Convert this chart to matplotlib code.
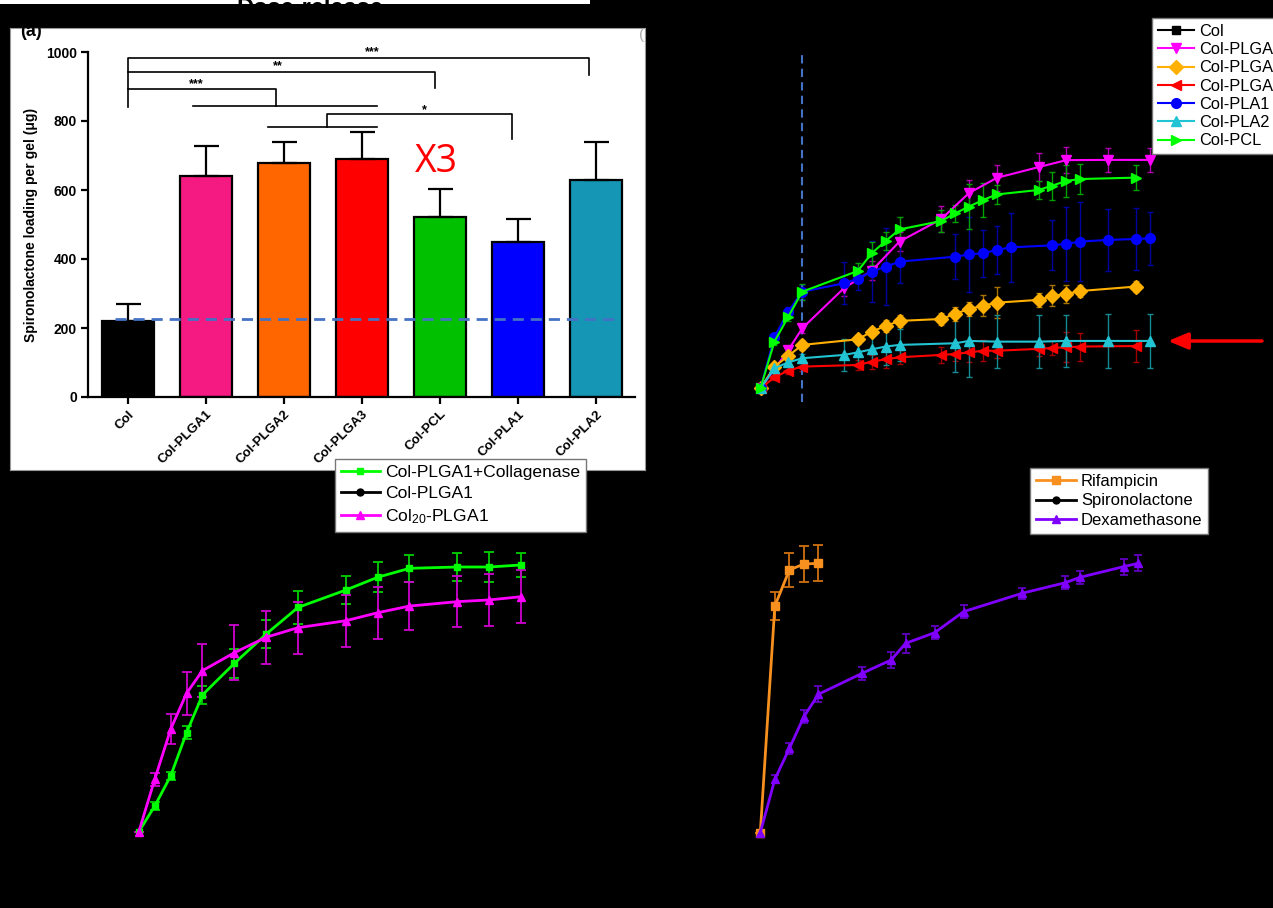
import matplotlib
matplotlib.use("Agg")
import matplotlib.pyplot as plt

plt.rcParams['font.family'] = ['Liberation Sans', 'DejaVu Sans']
plt.rcParams['mathtext.default'] = 'regular'

# ---- (a) loading per gel ----
groups = ['Col', 'Col-PLGA1', 'Col-PLGA2', 'Col-PLGA3', 'Col-PCL', 'Col-PLA1', 'Col-PLA2']
loading = [220, 640, 677, 690, 522, 450, 630]
loading_err = [50, 88, 63, 78, 82, 66, 108]
bar_colors = ['#000000', '#f41a82', '#ff6600', '#ff0000', '#00c000', '#0000ff', '#1496b4']
col_level = 225

# significance brackets: polyline points (group position, value) and star label
brackets = [
    ([(0, 840), (0, 983), (5.91, 983), (5.91, 933)], '***', (3.13, 1000)),
    ([(0, 943), (3.94, 943), (3.94, 895)], '**', (1.92, 958)),
    ([(0, 893), (1.9, 893), (1.9, 843)], '***', (0.88, 908)),
    ([(0.83, 843), (3.19, 843)], '', None),
    ([(1.8, 783), (3.19, 783)], '', None),
    ([(2.55, 783), (2.55, 820), (4.92, 820), (4.92, 747)], '*', (3.8, 832)),
]

# ---- (b) cumulative release, day ----
b_series = {
    'Col-PLGA1': ([0, 2, 3, 6, 8, 10, 13, 15, 17, 20, 22, 25, 28],
                  [0, 16.4, 25.7, 42.9, 50.4, 62.9, 72.5, 83.7, 90.2, 94.8, 97.8, 97.9, 97.9],
                  [0, 1.5, 2, 3.5, 4, 4, 5.5, 5.5, 5.5, 5.9, 5.5, 5.2, 5.2]),
    'Col-PLGA2': ([0, 1, 2, 3, 7, 8, 9, 10, 13, 14, 15, 16, 17, 20, 21, 22, 23, 27],
                  [0, 9.3, 13.9, 18.6, 21.0, 24.3, 26.7, 28.9, 29.7, 31.9, 34.0, 35.4, 36.7, 37.9, 39.6, 40.4, 41.7, 43.6],
                  [0, 1, 1.5, 2, 2, 2, 2.5, 2.5, 2.5, 3, 2.9, 4.6, 6.6, 3, 4.5, 3.8, 2.5, 2.4]),
    'Col-PLGA3': ([0, 1, 2, 3, 7, 8, 9, 10, 13, 14, 15, 16, 17, 20, 21, 22, 23, 27],
                  [0, 4.7, 7.6, 9.3, 10.0, 11.4, 12.4, 13.3, 14.3, 14.7, 15.4, 16.1, 16.1, 16.9, 17.3, 17.6, 17.9, 18.1],
                  [0, 1, 1.5, 2, 2, 3, 3.9, 3, 3.4, 3, 4, 4.6, 3, 3, 3, 6.4, 6, 6.8]),
    'Col-PLA1': ([0, 1, 2, 3, 6, 7, 8, 9, 10, 14, 15, 16, 17, 18, 21, 22, 23, 25, 27, 28],
                 [0, 21.9, 32.9, 41.4, 45.0, 47.0, 50.0, 52.1, 54.3, 56.4, 57.4, 57.9, 59.3, 60.4, 61.3, 61.9, 62.9, 63.6, 64.0, 64.3],
                 [0, 1.5, 2, 3, 9, 5, 13, 16.4, 9.1, 9.6, 16, 10, 10.3, 14.7, 10.7, 15.7, 16.8, 13.4, 13.2, 11.4]),
    'Col-PLA2': ([0, 1, 2, 3, 6, 7, 8, 9, 10, 14, 15, 17, 20, 22, 25, 28],
                 [0, 8.6, 11.1, 12.9, 14.3, 15.4, 16.7, 17.9, 18.6, 19.3, 20.3, 20.0, 20.0, 20.3, 20.3, 20.3],
                 [0, 1, 1.5, 2, 7, 5, 6, 8, 7, 12.5, 15.6, 11.3, 11.3, 11.3, 11.4, 11.5]),
    'Col-PCL': ([0, 1, 2, 3, 7, 8, 9, 10, 13, 14, 15, 16, 17, 20, 21, 22, 23, 27],
                [0, 20.0, 30.7, 41.4, 50.3, 57.9, 63.1, 68.1, 71.7, 75.0, 77.9, 80.7, 83.1, 85.0, 86.9, 88.9, 89.7, 90.3],
                [0, 1.5, 2, 3.5, 3.5, 5, 4, 5.3, 4.6, 3.6, 9.6, 7.1, 4, 3.9, 6, 6.9, 6.6, 5.5]),
}
b_style = {
    'Col-PLGA1': ('#ff00ff', '#b000b0', 'v'),
    'Col-PLGA2': ('#ffb000', '#a87400', 'D'),
    'Col-PLGA3': ('#ff0000', '#a00000', '<'),
    'Col-PLA1': ('#0000ff', '#0000a0', 'o'),
    'Col-PLA2': ('#22c3d3', '#168a94', '^'),
    'Col-PCL': ('#00ff00', '#00a000', '>'),
}
b_order = ['Col', 'Col-PLGA1', 'Col-PLGA2', 'Col-PLGA3', 'Col-PLA1', 'Col-PLA2', 'Col-PCL']
burst_day = 3

# ---- (c) collagenase ----
c_days = [0, 1, 2, 3, 4, 6, 8, 10, 13, 15, 17, 20, 22, 24]
c_collagenase = [0, 9.6, 20.9, 37.1, 51.3, 63.1, 74.1, 84.1, 90.6, 95.4, 98.75, 99.25, 99.25, 100]
c_collagenase_err = [0, 1.5, 1.5, 2.5, 3.3, 5.3, 5.3, 6.2, 5.4, 5.6, 5.1, 5.3, 5.5, 4.5]
c_col20 = [0, 19.6, 38.4, 51.9, 60.4, 67.1, 72.9, 76.5, 79.1, 82.1, 84.6, 86.25, 86.9, 88.1]
c_col20_err = [0, 2.5, 5.6, 8.1, 10, 10.3, 9.9, 9.7, 9.7, 9.7, 9.0, 9.6, 9.6, 9.9]

# ---- (d) drugs ----
rif_days = [0, 1, 2, 3, 4]
rif = [0, 85, 98.5, 100.75, 101]
rif_err = [0, 5.4, 6.5, 6.9, 6.75]
dex_days = [0, 1, 2, 3, 4, 7, 9, 10, 12, 14, 18, 21, 22, 25, 26]
dex = [0, 20, 31.6, 43.5, 51.9, 59.75, 64.75, 71, 75, 82.9, 89.75, 93.75, 95.75, 99.75, 101]
dex_err = [0, 1.5, 2, 2.5, 3, 2.5, 3, 3.5, 2.5, 2.5, 2, 2.5, 2.5, 3, 3]

W, H = 1273, 908
fig = plt.figure(figsize=(W / 100, H / 100), dpi=100, facecolor='black')


def px_rect(x0, y0, x1, y1):
    return [x0 / W, 1 - y1 / H, (x1 - x0) / W, (y1 - y0) / H]


def overlay(box, x0px, px_per_day, y0px, px_per_unit):
    left, top, right, bottom = box
    ax = fig.add_axes(px_rect(left, top, right, bottom))
    ax.set_xlim((left - x0px) / px_per_day, (right - x0px) / px_per_day)
    ax.set_ylim((y0px - bottom) / px_per_unit, (y0px - top) / px_per_unit)
    ax.set_axis_off()
    return ax


def legend_at(handles, labels, x, y, fs, hl, ls):
    leg = fig.legend(handles, labels, loc='upper left', bbox_to_anchor=(x / W, 1 - y / H),
                     bbox_transform=fig.transFigure, borderaxespad=0, fontsize=fs,
                     handlelength=hl, handletextpad=0.3, labelspacing=ls, borderpad=0.35,
                     fancybox=False, framealpha=1, edgecolor='#777777')
    leg.get_frame().set_linewidth(1.0)
    return leg


# top strip with clipped title
ax_top = fig.add_axes(px_rect(0, 0, 590, 4))
ax_top.set_facecolor('white')
ax_top.set_xticks([]); ax_top.set_yticks([])
for s in ax_top.spines.values():
    s.set_visible(False)
ax_top.text(310 / 590, 1.8, 'Dose-release', ha='center', va='top', fontsize=17,
            fontweight='bold', color='black', transform=ax_top.transAxes, clip_on=True)

# white panel (a)
ax_pa = fig.add_axes(px_rect(10, 28, 645, 470))
ax_pa.set_facecolor('white')
ax_pa.set_xticks([]); ax_pa.set_yticks([])
for s in ax_pa.spines.values():
    s.set_color('#999999'); s.set_linewidth(0.8)
ax_pa.text(10 / 635, (470 - 36) / 442, '(a)', fontsize=13, fontweight='bold',
           transform=ax_pa.transAxes, clip_on=True)
fig.text(642 / W, 1 - 35 / H, '(', color='#aaaaaa', fontsize=11, ha='center', va='center')

# bar chart
ax = fig.add_axes(px_rect(88, 52, 635, 397))
ax.set_facecolor('none')
pos = list(range(len(groups)))
ax.bar(pos, loading, width=0.67, color=bar_colors, edgecolor='black', linewidth=1.6,
       yerr=[[0] * len(loading), loading_err], capsize=9,
       error_kw=dict(elinewidth=1.6, capthick=1.6, ecolor='black'), zorder=2)
ax.plot([-0.17, 6.24], [col_level, col_level], linestyle=(0, (4, 2.5)), color='#4472c4', lw=2, zorder=3)
for pts, lab, lpos in brackets:
    ax.plot([p[0] for p in pts], [p[1] for p in pts], color='black', lw=1.2, clip_on=False)
    if lab:
        ax.text(lpos[0], lpos[1], lab, ha='center', va='center', fontsize=9, fontweight='bold')
ax.text(3.95, 681, 'X3', color='#ff0000', fontsize=27, family='Open Sans', ha='center', va='center')
ax.set_xlim(-0.513, 6.5)
ax.set_ylim(0, 1000)
ax.set_yticks([0, 200, 400, 600, 800, 1000])
ax.set_xticks(pos)
ax.set_xticklabels(groups, rotation=45, ha='right', va='top', rotation_mode='anchor',
                   fontsize=9.5, fontweight='bold')
for lab in ax.get_yticklabels():
    lab.set_fontweight('bold')
ax.tick_params(axis='both', direction='out', length=5, width=1.6, pad=3)
ax.tick_params(axis='y', labelsize=10)
ax.spines['top'].set_visible(False)
ax.spines['right'].set_visible(False)
ax.spines['left'].set_linewidth(1.6)
ax.spines['bottom'].set_linewidth(1.6)
ax.set_ylabel('Spironolactone loading per gel (\u03bcg)', fontsize=10, fontweight='bold')
ax.yaxis.set_label_coords(-0.092, 0.5)

# panel (b)
axb = overlay((690, 30, 1273, 420), 760.5, 13.9, 388.3, 2.333)
handles = {}
handles['Col'], = axb.plot([], [], color='black', marker='s', lw=1.5, ms=6)
for name, (t, v, e) in b_series.items():
    c, ec, m = b_style[name]
    cont = axb.errorbar(t, v, yerr=e, color=c, ecolor=ec, marker=m, ms=7, lw=1.5,
                        elinewidth=1, capsize=2.5, capthick=1, clip_on=False)
    handles[name] = cont[0]
axb.plot([burst_day, burst_day], [-5.9, 142.9], linestyle=(0, (4, 2.5)), color='#4472c4', lw=1.5)
axb.annotate('', xy=((1168 - 760.5) / 13.9, (388.3 - 341) / 2.333),
             xytext=((1262 - 760.5) / 13.9, (388.3 - 341) / 2.333),
             arrowprops=dict(arrowstyle='-|>,head_length=0.6,head_width=0.25', color='#ff0000',
                             lw=2.5, mutation_scale=20, shrinkA=0, shrinkB=0), annotation_clip=False)
legend_at([handles[k] for k in b_order], b_order, 1152, 18, 11.8, 2.2, 0.2)

# panel (c)
axc = overlay((60, 540, 600, 880), 138.8, 15.92, 831.7, 2.667)
hc1 = axc.errorbar(c_days, c_collagenase, yerr=c_collagenase_err, color='#00ff00', ecolor='#00d000',
                   marker='s', ms=5, lw=2, elinewidth=1.3, capsize=3.5, capthick=1.3, clip_on=False)[0]
hc2, = axc.plot([], [], color='black', marker='o', ms=5, lw=2)
hc3 = axc.errorbar(c_days, c_col20, yerr=c_col20_err, color='#ff00ff', ecolor='#d000d0',
                   marker='^', ms=6, lw=2, elinewidth=1.3, capsize=3.5, capthick=1.3, clip_on=False)[0]
legend_at([hc1, hc2, hc3], ['Col-PLGA1+Collagenase', 'Col-PLGA1', 'Col$_{20}$-PLGA1'],
          335, 459, 12.6, 2.2, 0.32)

# panel (d)
axd = overlay((700, 540, 1273, 880), 760.3, 14.53, 832.7, 2.667)
hd1 = axd.errorbar(rif_days, rif, yerr=rif_err, color='#f7901e', ecolor='#d07010',
                   marker='s', ms=6, lw=2, elinewidth=1.3, capsize=3.5, capthick=1.3, clip_on=False)[0]
hd2, = axd.plot([], [], color='black', marker='o', ms=5, lw=2)
hd3 = axd.errorbar(dex_days, dex, yerr=dex_err, color='#8000ff', ecolor='#6000c0',
                   marker='^', ms=6, lw=2, elinewidth=1.3, capsize=3, capthick=1.3, clip_on=False)[0]
legend_at([hd1, hd2, hd3], ['Rifampicin', 'Spironolactone', 'Dexamethasone'],
          1030, 468, 12, 2.4, 0.28)

fig.savefig('out.png', dpi=100, facecolor='black')
